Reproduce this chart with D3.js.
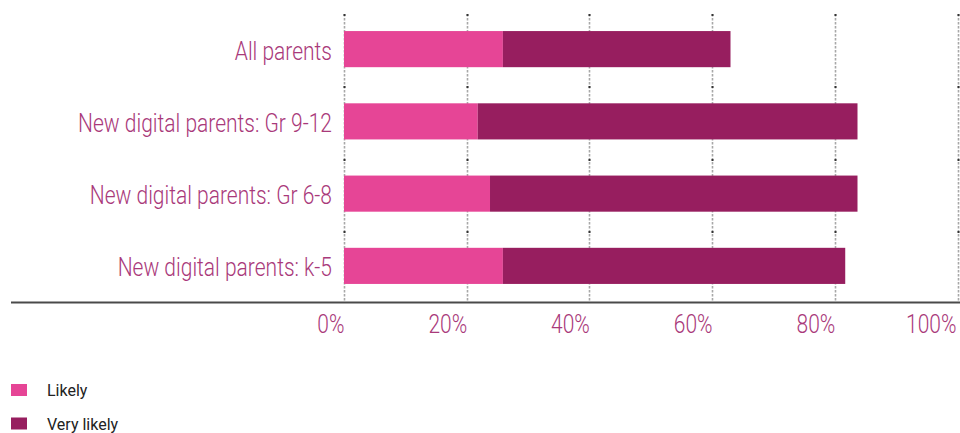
<!DOCTYPE html>
<html>
<head>
<meta charset="utf-8">
<script src="https://cdn.jsdelivr.net/npm/d3@7"></script>
<style>
  html, body { margin: 0; padding: 0; background: #fff; }
  svg { display: block; }
</style>
</head>
<body>
<svg id="chart" width="960" height="433"></svg>
<script>
// Share of parents, by group
const categories = [
  "All parents",
  "New digital parents: Gr 9-12",
  "New digital parents: Gr 6-8",
  "New digital parents: k-5"
];
const likely     = [25.9, 21.8, 23.8, 25.9];
const veryLikely = [37.1, 61.9, 59.9, 55.8];
const seriesNames = ["Likely", "Very likely"];
const seriesColors = ["#e64596", "#971e5f"];
const xTicks = [0, 20, 40, 60, 80, 100];

const svg = d3.select("#chart");
const labelColor = "#a9397a";
const labelFont = "Roboto, 'Noto Sans', sans-serif";
const condense = 0.84;   // horizontal squeeze for the light labels

const x = d3.scaleLinear().domain([0, 100]).range([344, 957.5]);
const y = d3.scaleBand().domain(categories).range([13, 302])
  .paddingInner(0.5).paddingOuter(0.25);

// vertical dashed gridlines
const grid = svg.append("g");
grid.selectAll("line").data(xTicks).join("line")
  .attr("x1", d => Math.round(x(d)) + 0.5).attr("x2", d => Math.round(x(d)) + 0.5)
  .attr("y1", 14).attr("y2", 302)
  .attr("stroke", "#a8a8a8").attr("stroke-width", 1.6)
  .attr("stroke-dasharray", "2.5,1.5");

// small marks where band boundaries cross gridlines
const boundaries = categories.map(c => y(c) - y.step() * y.paddingInner() / 2);
const marks = [];
xTicks.forEach(t => boundaries.forEach(b => marks.push([t, b])));
grid.selectAll("rect.mark").data(marks).join("rect")
  .attr("class", "mark")
  .attr("x", d => Math.round(x(d[0])) - 0.5).attr("y", d => Math.round(d[1]) + 1)
  .attr("width", 2).attr("height", 2).attr("fill", "#333");

// stacked bars
const rows = categories.map((c, i) => ({ cat: c, values: [likely[i], veryLikely[i]] }));
const stack = d3.stack().keys([0, 1]).value((d, k) => d.values[k]);
const layers = stack(rows);
svg.append("g").selectAll("g").data(layers).join("g")
  .attr("fill", (d, i) => seriesColors[i])
  .selectAll("rect").data(d => d).join("rect")
  .attr("x", d => x(d[0]))
  .attr("width", d => x(d[1]) - x(d[0]))
  .attr("y", d => y(d.data.cat))
  .attr("height", y.bandwidth());

// baseline
svg.append("line")
  .attr("x1", 11).attr("x2", 960).attr("y1", 302.5).attr("y2", 302.5)
  .attr("stroke", "#4a4a4a").attr("stroke-width", 2);

// category labels, squeezed horizontally for a condensed look
svg.append("g").selectAll("text").data(categories).join("text")
  .attr("transform", d => `translate(332, ${y(d) + y.bandwidth() / 2 + 10.5}) scale(${condense}, 1)`)
  .attr("text-anchor", "end")
  .attr("font-family", labelFont).attr("font-weight", 300)
  .attr("font-size", 25).attr("fill", labelColor)
  .text(d => d);

// x axis tick labels
const axis = d3.axisBottom(x).tickValues(xTicks).tickFormat(d => d + "%").tickSize(0);
const axG = svg.append("g").attr("transform", "translate(0,302)").call(axis);
axG.select(".domain").remove();
axG.selectAll("text")
  .attr("text-anchor", "end")
  .attr("dy", null).attr("y", null)
  .attr("transform", d => `translate(${d === 100 ? -1.5 : 0}, 31) scale(${condense}, 1)`)
  .attr("font-family", labelFont).attr("font-weight", 300)
  .attr("font-size", 25).attr("fill", labelColor);

// legend
const legend = svg.append("g").selectAll("g").data(seriesNames).join("g")
  .attr("transform", (d, i) => `translate(11, ${384 + i * 33.5})`);
legend.append("rect").attr("width", 16).attr("height", 12)
  .attr("fill", (d, i) => seriesColors[i]);
legend.append("text").attr("x", 36).attr("y", 12)
  .attr("font-family", labelFont).attr("font-size", 16)
  .attr("fill", "#222").text(d => d);
</script>
</body>
</html>
